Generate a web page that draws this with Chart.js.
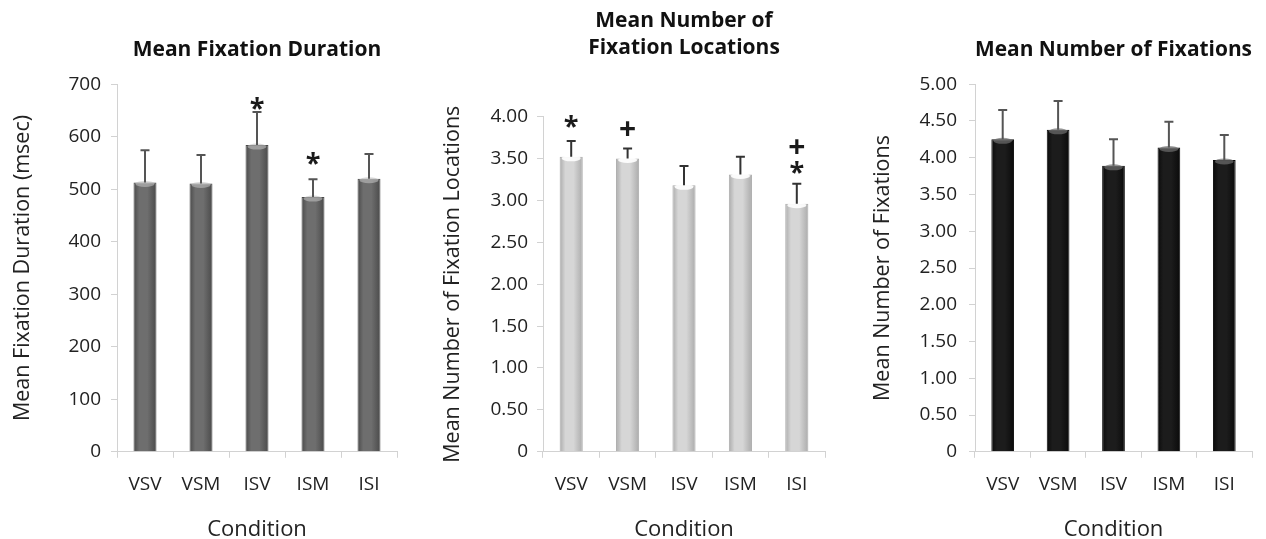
<!DOCTYPE html>
<html>
<head>
<meta charset="utf-8">
<script src="https://cdn.jsdelivr.net/npm/chart.js@4.4.1/dist/chart.umd.min.js"></script>
<style>
  body { margin: 0; background: #fff; width: 1266px; height: 539px; position: relative; overflow: hidden; }
  .panel { position: absolute; top: 0; height: 539px; }
</style>
</head>
<body>
<div class="panel" style="left:0;width:420px"><canvas id="durationChart" width="420" height="539"></canvas></div>
<div class="panel" style="left:420px;width:430px"><canvas id="locationChart" width="430" height="539"></canvas></div>
<div class="panel" style="left:850px;width:416px"><canvas id="fixationChart" width="416" height="539"></canvas></div>
<script>
const conditions = ["VSV", "VSM", "ISV", "ISM", "ISI"];

const durationMeans = [513, 511, 584, 485, 520];
const durationErrors = [61, 54, 63, 34, 47];
const durationTicks = ["0", "100", "200", "300", "400", "500", "600", "700"];
const durationSigns = [[], [], [["*", 664]], [["*", 559]], []];

const locationMeans = [3.52, 3.50, 3.18, 3.31, 2.96];
const locationErrors = [0.19, 0.12, 0.23, 0.21, 0.24];
const locationTicks = ["0", "0.50", "1.00", "1.50", "2.00", "2.50", "3.00", "3.50", "4.00"];
const locationSigns = [[["*", 3.94]], [["+", 3.86]], [], [], [["+", 3.64], ["*", 3.39]]];

const fixationMeans = [4.25, 4.38, 3.89, 4.14, 3.97];
const fixationErrors = [0.40, 0.39, 0.36, 0.35, 0.34];
const fixationTicks = ["0", "0.50", "1.00", "1.50", "2.00", "2.50", "3.00", "3.50", "4.00", "4.50", "5.00"];
const fixationSigns = [[], [], [], [], []];

const FONT = "'Open Sans', 'DejaVu Sans', sans-serif";
const AXIS_GREY = "#d2d2d2";
const BAR_PCT = 0.41;

// cylinder-ish shading across each bar
const barGradient = (shades) => (c) => {
    const chart = c.chart;
    const x = chart.scales.x;
    if (!chart.chartArea || !x || c.dataIndex === undefined) return shades[1];
    const cx = x.getPixelForValue(c.dataIndex);
    const half = (x.width / conditions.length) * BAR_PCT / 2;
    const g = chart.ctx.createLinearGradient(cx - half, 0, cx + half, 0);
    g.addColorStop(0, shades[0]);
    g.addColorStop(0.25, shades[1]);
    g.addColorStop(0.6, shades[1]);
    g.addColorStop(1, shades[0]);
    return g;
};

const errorBarPlugin = {
    id: "errorBars",
    afterDatasetsDraw(chart, args, opts) {
        const { ctx } = chart;
        const x = chart.scales.x;
        const y = chart.scales.y;
        const half = (x.width / conditions.length) * BAR_PCT / 2;
        ctx.save();
        opts.means.forEach((m, i) => {
            const px = x.getPixelForValue(i);
            const base = y.getPixelForValue(m);
            const top = y.getPixelForValue(m + opts.errors[i]);

            // light cap on top of the bar
            ctx.fillStyle = opts.highlight;
            ctx.beginPath();
            ctx.ellipse(px, base + 1.5, half - 2, 3, 0, 0, Math.PI * 2);
            ctx.fill();

            ctx.strokeStyle = opts.color;
            ctx.lineWidth = 2;
            ctx.beginPath();
            ctx.moveTo(px, base);
            ctx.lineTo(px, top);
            ctx.moveTo(px - 4.5, top);
            ctx.lineTo(px + 4.5, top);
            ctx.stroke();

            opts.signs[i].forEach(([txt, v]) => {
                ctx.font = "bold " + (txt === "*" ? 27 : 30) + "px " + FONT;
                ctx.fillStyle = "#1a1a1a";
                ctx.textAlign = "center";
                ctx.textBaseline = "alphabetic";
                const mt = ctx.measureText(txt);
                const cy = y.getPixelForValue(v);
                ctx.fillText(txt, px, cy + (mt.actualBoundingBoxAscent - mt.actualBoundingBoxDescent) / 2);
            });
        });
        ctx.restore();
    },
};

const makeChart = (id, cfg) => {
    const ctx = document.getElementById(id).getContext("2d");
    return new Chart(ctx, {
        type: "bar",
        data: {
            labels: conditions,
            datasets: [{
                data: cfg.means,
                backgroundColor: barGradient(cfg.shades),
                borderColor: cfg.shades[0],
                borderWidth: 1,
                borderSkipped: "bottom",
                barPercentage: BAR_PCT,
                categoryPercentage: 1,
            }],
        },
        options: {
            responsive: false,
            animation: false,
            devicePixelRatio: 1,
            layout: { padding: { left: 0, right: cfg.rightPad, top: 0, bottom: 0 } },
            plugins: {
                legend: { display: false },
                tooltip: { enabled: false },
                title: {
                    display: true,
                    text: cfg.title,
                    fullSize: false,
                    color: "#111",
                    font: { family: FONT, size: 21, weight: "bold", lineHeight: cfg.titleLine },
                    padding: cfg.titlePad,
                },
                errorBars: {
                    means: cfg.means,
                    errors: cfg.errors,
                    signs: cfg.signs,
                    color: cfg.errColor,
                    highlight: cfg.highlight,
                },
            },
            scales: {
                x: {
                    grid: { drawOnChartArea: false, drawTicks: true, tickLength: 6, color: AXIS_GREY },
                    border: { color: AXIS_GREY },
                    ticks: { color: "#222", font: { family: FONT, size: 19 }, padding: 15 },
                    title: {
                        display: true,
                        text: "Condition",
                        color: "#222",
                        font: { family: FONT, size: 22 },
                        padding: { top: 6, bottom: -4 },
                    },
                },
                y: {
                    min: 0,
                    max: cfg.max,
                    afterFit: (s) => { s.width = cfg.yWidth; },
                    grid: { drawOnChartArea: false, drawTicks: true, tickLength: 6, color: AXIS_GREY },
                    border: { color: AXIS_GREY },
                    ticks: {
                        stepSize: cfg.step,
                        color: "#222",
                        font: { family: FONT, size: 19 },
                        padding: cfg.tickPad,
                        callback: (v, i) => cfg.ticks[i],
                    },
                    title: {
                        display: true,
                        text: cfg.yTitle,
                        color: "#222",
                        font: { family: FONT, size: 21.5 },
                        padding: { top: cfg.yTitlePad, bottom: 0 },
                    },
                },
            },
        },
        plugins: [errorBarPlugin],
    });
};

makeChart("durationChart", {
    means: durationMeans, errors: durationErrors, signs: durationSigns, ticks: durationTicks,
    max: 700, step: 100, yWidth: 117, rightPad: 23, tickPad: 10, yTitlePad: 10,
    title: "Mean Fixation Duration", titleLine: 1.2, titlePad: { top: 37, bottom: 22 },
    yTitle: "Mean Fixation Duration (msec)",
    shades: ["#4a4a4a", "#6e6e6e"], errColor: "#555555", highlight: "rgba(190,190,190,0.6)",
});

makeChart("locationChart", {
    means: locationMeans, errors: locationErrors, signs: locationSigns, ticks: locationTicks,
    max: 4, step: 0.5, yWidth: 123, rightPad: 25, tickPad: 9, yTitlePad: 20,
    title: ["Mean Number of", "Fixation Locations"], titleLine: 1.3, titlePad: { top: 7, bottom: 55 },
    yTitle: "Mean Number of Fixation Locations",
    shades: ["#ababab", "#d6d6d6"], errColor: "#333333", highlight: "rgba(255,255,255,0.9)",
});

makeChart("fixationChart", {
    means: fixationMeans, errors: fixationErrors, signs: fixationSigns, ticks: fixationTicks,
    max: 5, step: 0.5, yWidth: 125, rightPad: 14, tickPad: 12, yTitlePad: 20,
    title: "Mean Number of Fixations", titleLine: 1.2, titlePad: { top: 37, bottom: 22 },
    yTitle: "Mean Number of Fixations",
    shades: ["#0a0a0a", "#1c1c1c"], errColor: "#555555", highlight: "rgba(110,110,110,0.7)",
});
</script>
</body>
</html>
